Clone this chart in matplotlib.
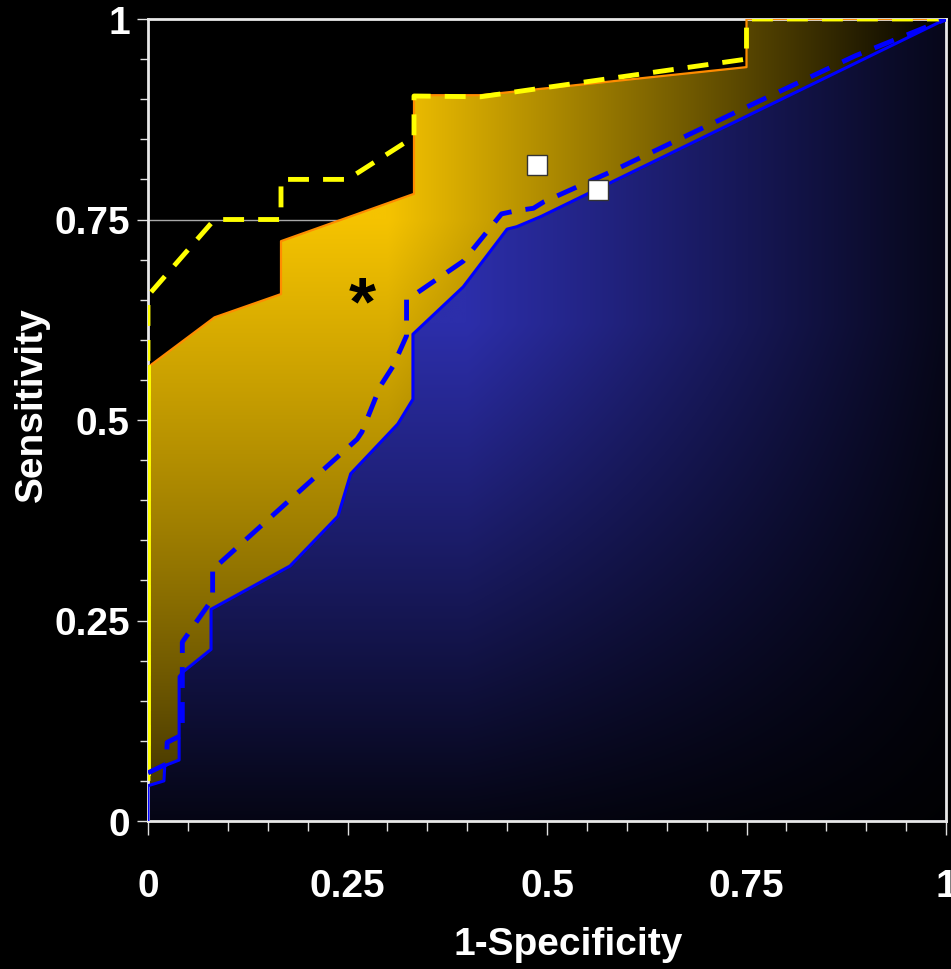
import numpy as np
import matplotlib
matplotlib.use("Agg")
import matplotlib.pyplot as plt
from matplotlib.patches import Polygon

# ---- data ----
orange_x = [0.0, 1/12, 2/12, 2/12, 4/12, 4/12, 5/12, 9/12, 9/12, 1.0]
orange_y = [0.566, 0.628, 0.657, 0.723, 0.782, 0.905, 0.905, 0.940, 1.0, 1.0]

yellow_x = [0.0, 0.0, 1/12, 2/12, 2/12, 0.25, 4/12, 4/12, 5/12, 9/12, 9/12, 1.0]
yellow_y = [0.05, 0.655, 0.75, 0.75, 0.80, 0.80, 0.853, 0.904, 0.903, 0.95, 1.0, 1.0]

blue_x = [0.0, 0.0, 0.02, 0.021, 0.039, 0.039, 0.044, 0.079, 0.079, 0.178, 0.238,
          0.254, 0.313, 0.332, 0.332, 0.395, 0.45, 0.462, 0.493, 1.0]
blue_y = [0.0, 0.044, 0.05, 0.069, 0.076, 0.18, 0.186, 0.214, 0.264, 0.318, 0.38,
          0.433, 0.495, 0.526, 0.607, 0.666, 0.738, 0.741, 0.754, 1.0]

bdash_x = [0.0, 0.023, 0.024, 0.04, 0.043, 0.043, 0.059, 0.081, 0.081, 0.086, 0.262,
           0.268, 0.291, 0.307, 0.324, 0.324, 0.332, 0.395, 0.443, 0.462, 0.483,
           0.496, 0.579, 0.754, 0.886, 1.0]
bdash_y = [0.06, 0.071, 0.098, 0.106, 0.111, 0.223, 0.246, 0.277, 0.318, 0.318, 0.476,
           0.485, 0.542, 0.567, 0.605, 0.651, 0.655, 0.698, 0.757, 0.761, 0.764,
           0.772, 0.809, 0.892, 0.954, 1.0]

square_x = [0.487, 0.564]
square_y = [0.818, 0.787]
star_xy = (0.269, 0.643)

ticks = [0, 0.25, 0.5, 0.75, 1]
tick_labels = ["0", "0.25", "0.5", "0.75", "1"]

# ---- figure ----
W, H = 951, 970
fig = plt.figure(figsize=(W/100, H/100), dpi=100, facecolor="black")
ax = fig.add_axes([148/W, (H-822)/H, 798/W, 802/H])
ax.set_facecolor("black")
plt.rcParams['font.family'] = ['Liberation Sans', 'DejaVu Sans']

# gradient images
n = 400
gx, gy = np.meshgrid(np.linspace(0, 1, n), np.linspace(0, 1, n))

fx_g = np.clip((1 - gx) / 0.7, 0, 1)
fy_g = 0.2 + 0.8 * np.clip(gy / 0.75, 0, 1) ** 0.8
gold = np.array([245, 195, 0]) / 255.0
img_g = (fx_g * fy_g)[..., None] * gold

fx_b = np.clip(1 - (gx - 0.4) / 0.6 * 0.85, 0.08, 1)
fy_b = 0.12 + 0.88 * np.clip(gy / 0.62, 0, 1)
blue = np.array([44, 46, 170]) / 255.0
img_b = (fx_b * fy_b)[..., None] * blue

poly_g = Polygon(list(zip(orange_x, orange_y)) + [(1, 0), (0, 0)], closed=True,
                 transform=ax.transData, facecolor="none", edgecolor="none")
poly_b = Polygon(list(zip(blue_x, blue_y)) + [(1, 0)], closed=True,
                 transform=ax.transData, facecolor="none", edgecolor="none")

im1 = ax.imshow(img_g, extent=[0, 1, 0, 1], origin="lower", aspect="auto",
                interpolation="bilinear", zorder=1)
im1.set_clip_path(poly_g)
im2 = ax.imshow(img_b, extent=[0, 1, 0, 1], origin="lower", aspect="auto",
                interpolation="bilinear", zorder=2)
im2.set_clip_path(poly_b)

# grid
for t in ticks[1:-1]:
    ax.axhline(t, color="#a8a8a8", lw=1.0, zorder=0.5)

# lines
ax.plot(orange_x, orange_y, color="#ff8c00", lw=1.6, zorder=3)
ax.plot(blue_x, blue_y, color="#0000ff", lw=2.2, zorder=3)
ax.plot([0, 0], [bdash_y[0], orange_y[0]], color="#ffff00", lw=3.5, zorder=4)
ax.plot(yellow_x, yellow_y, color="#ffff00", lw=3.5, ls=(0, (4.3, 2.9)), zorder=4)
ax.plot(bdash_x, bdash_y, color="#0000ff", lw=3.5, ls=(0, (4.3, 2.9)), zorder=4)

ax.plot(square_x, square_y, ls="none", marker="s", ms=14, mfc="white",
        mec="#333333", mew=1, zorder=5)
ax.text(star_xy[0], star_xy[1], "*", color="black", fontsize=50, fontweight="bold",
        ha="center", va="center", zorder=6, family=['Liberation Sans', 'DejaVu Sans'])

ax.set_xlim(0, 1)
ax.set_ylim(0, 1)

ax.set_xticks(ticks)
ax.set_yticks(ticks)
ax.set_xticklabels(tick_labels)
ax.set_yticklabels(tick_labels)
ax.set_xticks(np.arange(0, 1.0001, 0.05), minor=True)
ax.set_yticks(np.arange(0, 1.0001, 0.05), minor=True)

ax.tick_params(axis="x", which="major", length=10, width=1, color="#e0e0e0",
               pad=24, labelsize=28, labelcolor="white")
ax.tick_params(axis="x", which="minor", length=7, width=1, color="#e0e0e0")
ax.tick_params(axis="y", which="major", length=8, width=1, color="#e0e0e0",
               pad=5, labelsize=28, labelcolor="white")
ax.tick_params(axis="y", which="minor", length=6, width=1, color="#e0e0e0")
for lab in ax.get_xticklabels() + ax.get_yticklabels():
    lab.set_fontweight("bold")
    lab.set_family(['Liberation Sans', 'DejaVu Sans'])

for s in ax.spines.values():
    s.set_color("#e8e8e8")
    s.set_linewidth(2)
    s.set_zorder(2.5)

fig.text(32/W, 1 - 405/H, "Sensitivity", rotation=90, ha="center", va="center",
         color="white", fontsize=28, fontweight="bold")
fig.text(568/W, 1 - 945/H, "1-Specificity", ha="center", va="center",
         color="white", fontsize=28, fontweight="bold")

fig.savefig("out.png", dpi=100, facecolor="black")
